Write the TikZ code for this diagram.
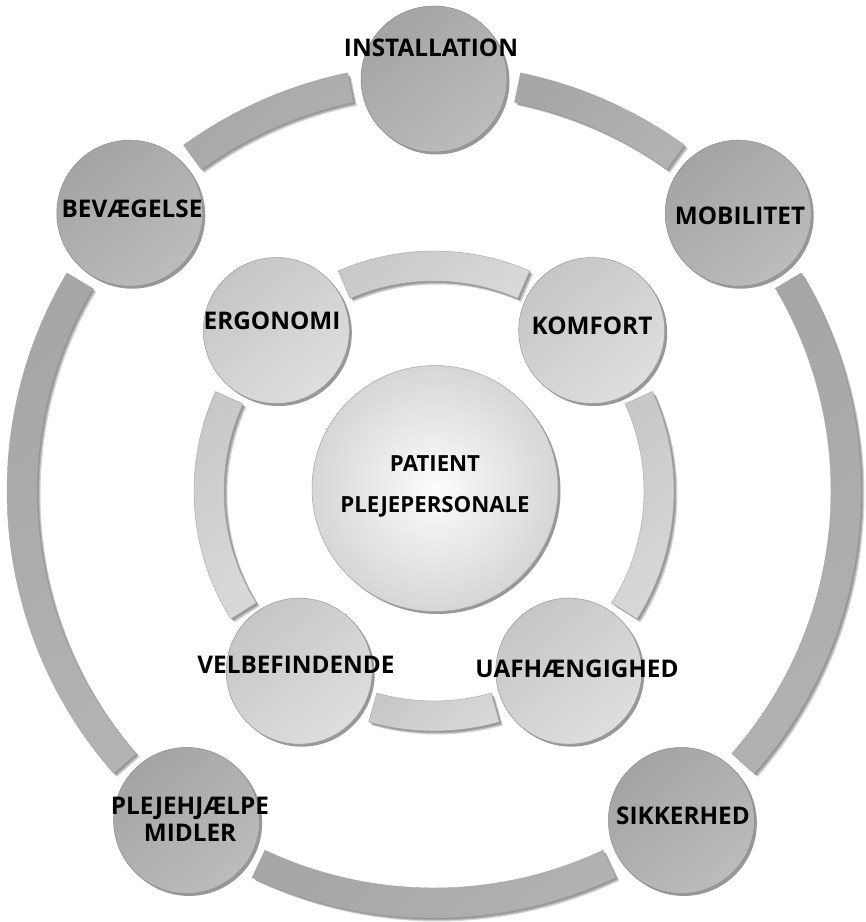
\documentclass[tikz,border=0pt]{standalone}
\usepackage{fontspec}
\setmainfont{Open Sans}
\usetikzlibrary{shadows}
\definecolor{ocA}{HTML}{A4A4A4}
\definecolor{ocB}{HTML}{BCBCBC}
\definecolor{obA}{HTML}{A6A6A6}
\definecolor{obB}{HTML}{B2B2B2}
\definecolor{icA}{HTML}{C6C6C6}
\definecolor{icB}{HTML}{DEDEDE}
\definecolor{ibA}{HTML}{C8C8C8}
\definecolor{ibB}{HTML}{D8D8D8}
\definecolor{ccA}{HTML}{FCFCFC}
\definecolor{ccB}{HTML}{D6D6D6}
\tikzset{
  shad/.style={drop shadow={shadow xshift=2.5pt, shadow yshift=-2.5pt, opacity=0.5, fill=black!80}},
  outercirc/.style={circle, minimum size=146pt, inner sep=0pt, draw=black!45, line width=0.5pt,
     top color=ocA, bottom color=ocB, shading angle=40, shad},
  innercirc/.style={circle, minimum size=146pt, inner sep=0pt, draw=black!40, line width=0.5pt,
     top color=icA, bottom color=icB, shading angle=40, shad},
  centercirc/.style={circle, minimum size=246pt, inner sep=0pt, draw=black!35, line width=0.5pt,
     inner color=ccA, outer color=ccB, shad},
  outerband/.style={top color=obA, bottom color=obB, shading angle=40},
  innerband/.style={top color=ibA, bottom color=ibB, shading angle=40},
  lbl/.style={font=\fontsize{24.3}{27}\selectfont\bfseries, text=black, inner sep=0pt, align=center, anchor=base},
  clbl/.style={font=\fontsize{22.2}{27}\selectfont\bfseries, text=black, inner sep=0pt, align=center, anchor=base},
}
\newcommand\ringband[4]{% style, a1, a2, R
  \foreach \sx in {1.5,2.5,3.5}{
    \fill[black, opacity=0.16, shift={(\sx pt,-\sx pt)}]
      (#2:#4+15pt) arc[start angle=#2, end angle=#3, radius=#4+15pt]
      -- (#3:#4-15pt) arc[start angle=#3, end angle=#2, radius=#4-15pt] -- cycle;
  }
  \shade[#1]
      (#2:#4+15pt) arc[start angle=#2, end angle=#3, radius=#4+15pt]
      -- (#3:#4-15pt) arc[start angle=#3, end angle=#2, radius=#4-15pt] -- cycle;
  \draw[black!35, line width=0.4pt]
      (#2:#4+15pt) arc[start angle=#2, end angle=#3, radius=#4+15pt]
      -- (#3:#4-15pt) arc[start angle=#3, end angle=#2, radius=#4-15pt] -- cycle;
}
\begin{document}
\begin{tikzpicture}[x=1pt,y=1pt]
\useasboundingbox (0,0) rectangle (866,922);
\fill[white] (0,0) rectangle (866,922);
\begin{scope}[shift={(434,431)}]
  % outer ring bands
  \ringband{outerband}{78.3}{54.1}{412pt}
  \ringband{outerband}{30.7}{-41.4}{412pt}
  \ringband{outerband}{-64.8}{-115.2}{412pt}
  \ringband{outerband}{221.4}{149.3}{412pt}
  \ringband{outerband}{125.9}{101.7}{412pt}
  % inner ring bands
  \ringband{innerband}{113.5}{66.5}{225pt}
  \ringband{innerband}{24.5}{-32.2}{225pt}
  \ringband{innerband}{-74.2}{-105.8}{225pt}
  \ringband{innerband}{212.2}{155.5}{225pt}
  % outer circles
  \node[outercirc] (inst) at (90:412pt) {};
  \node[outercirc] (mob) at (42.4:412pt) {};
  \node[outercirc] (sik) at (-53.1:412pt) {};
  \node[outercirc] (plej) at (233.1:412pt) {};
  \node[outercirc] (bev) at (137.6:412pt) {};
  % inner circles
  \node[innercirc] (erg) at (134.5:225pt) {};
  \node[innercirc] (kom) at (45.5:225pt) {};
  \node[innercirc] (uaf) at (-53.2:225pt) {};
  \node[innercirc] (vel) at (233.2:225pt) {};
\end{scope}
\node[centercirc] (pat) at (435,433.5) {};
% labels
\node[lbl] (tinst) at (431,865) {INSTALLATION};
\node[lbl] (tbev) at (132,704) {BEVÆGELSE};
\node[lbl] (tmob) at (740,697) {MOBILITET};
\node[lbl] (terg) at (272,592) {ERGONOMI};
\node[lbl] (tkom) at (592,587) {KOMFORT};
\node[lbl] (tvel) at (296,248) {VELBEFINDENDE};
\node[lbl] (tuaf) at (577,244) {UAFHÆNGIGHED};
\node[lbl] (tplej) at (190,80) {PLEJEHJÆLPE\\MIDLER};
\node[lbl] (tsik) at (683,97) {SIKKERHED};
\node[clbl] (tpat) at (435,409) {PATIENT\\[14pt]PLEJEPERSONALE};
\end{tikzpicture}
\end{document}
